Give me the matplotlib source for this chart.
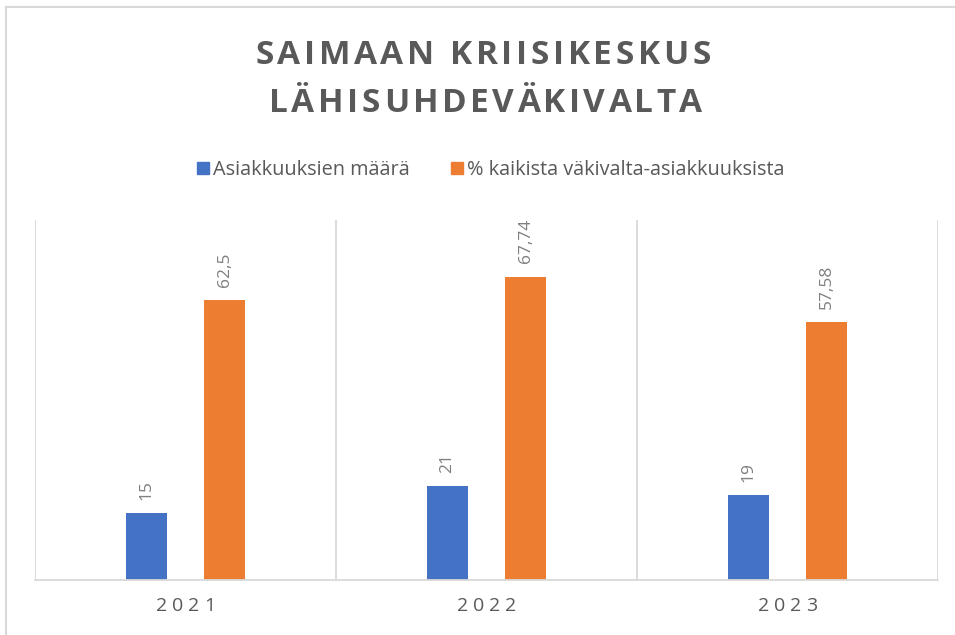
import matplotlib
matplotlib.use("agg")
import matplotlib.pyplot as plt
from matplotlib.lines import Line2D
import numpy as np

years = ["2021", "2022", "2023"]
asiakkuudet = [15, 21, 19]
prosentit = [62.5, 67.74, 57.58]
series_names = ["Asiakkuuksien määrä", "% kaikista väkivalta-asiakkuuksista"]

BLUE = "#4472c4"
ORANGE = "#ed7d31"
GREY = "#595959"
LABEL_GREY = "#7f7f7f"
GRID = "#d9d9d9"

W, H = 955, 635
fig = plt.figure(figsize=(W / 100, H / 100), dpi=100)
plt.rcParams["font.family"] = ["Open Sans", "DejaVu Sans"]


def spaced_text(x_px, y_px, s, track, **kw):
    # matplotlib has no letter spacing, so place the characters one by one
    r = fig.canvas.get_renderer()

    def width(txt):
        if not txt:
            return 0.0
        t = fig.text(0, 0, txt, **kw)
        w = t.get_window_extent(r).width
        t.remove()
        return w

    total = width(s) + track * (len(s) - 1)
    x0 = x_px - total / 2
    for i, ch in enumerate(s):
        x = x0 + width(s[:i]) + track * i
        fig.text(x / W, 1 - y_px / H, ch, ha="left", va="center", **kw)


# plot area
left, right, top, bottom = 35, 938, 220, 580
ax = fig.add_axes([left / W, 1 - bottom / H, (right - left) / W, (bottom - top) / H])
x = np.arange(len(years))
bw = 0.136
off = 0.13
b1 = ax.bar(x - off, asiakkuudet, bw, color=BLUE)
b2 = ax.bar(x + off, prosentit, bw, color=ORANGE)
ax.set_xlim(-0.5, 2.5)
ax.set_ylim(0, 80.4)

for xv in [-0.5, 0.5, 1.5, 2.5]:
    ax.axvline(xv, color=GRID, lw=1.3, zorder=0)
for s in ["top", "right", "left"]:
    ax.spines[s].set_visible(False)
ax.spines["bottom"].set_color(GRID)
ax.spines["bottom"].set_linewidth(1.3)
ax.set_xticks([])
ax.set_yticks([])

for bars, vals in [(b1, asiakkuudet), (b2, prosentit)]:
    for rect, v in zip(bars, vals):
        ax.annotate(f"{v:g}".replace(".", ","),
                    (rect.get_x() + rect.get_width() / 2, rect.get_height()),
                    xytext=(0, 9.5), textcoords="offset points",
                    rotation=90, ha="center", va="bottom",
                    fontsize=12.5, color=LABEL_GREY)

fig.canvas.draw()

# title
spaced_text(483, 55, "SAIMAAN KRIISIKESKUS", 3.6, fontsize=24, fontweight="bold", color=GREY)
spaced_text(484, 103, "LÄHISUHDEVÄKIVALTA", 3.6, fontsize=24, fontweight="bold", color=GREY)

# year labels
for i, yr in enumerate(years):
    xpix = ax.transData.transform((i, 0))[0]
    spaced_text(xpix, 606, yr, 5, fontsize=14, color=GREY)

# legend
handles = [Line2D([], [], marker="s", ls="", color=c, markersize=8) for c in (BLUE, ORANGE)]
leg = fig.legend(handles, series_names, loc="center", bbox_to_anchor=(489 / W, 1 - 170 / H),
                 ncol=2, frameon=False, fontsize=14.3, labelcolor=GREY,
                 handletextpad=0.0, columnspacing=1.9, handlelength=1.0)

# outer chart border
fig.add_artist(Line2D([5.5 / W, 5.5 / W], [0, 1 - 6.5 / H], color=GRID, lw=1.5))
fig.add_artist(Line2D([5.5 / W, 1], [1 - 6.5 / H, 1 - 6.5 / H], color=GRID, lw=1.5))

fig.savefig("out.png", dpi=100)
